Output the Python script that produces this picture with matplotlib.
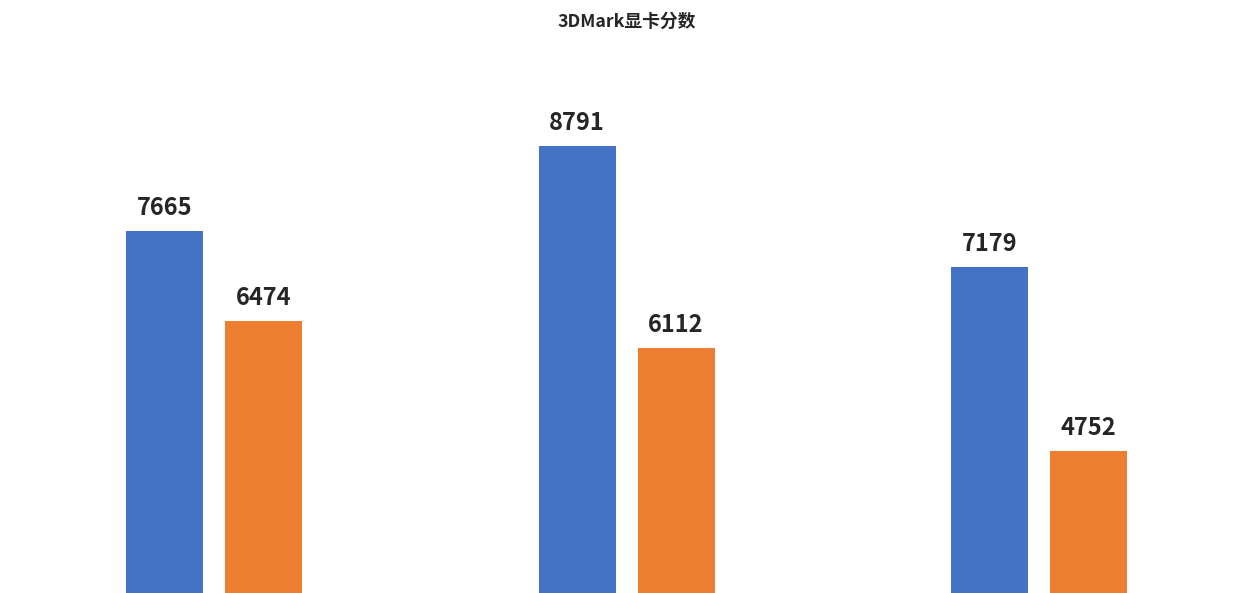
import numpy as np
import matplotlib
matplotlib.use('Agg')
import matplotlib.pyplot as plt

plt.rcParams['font.family'] = ['Noto Sans CJK SC', 'DejaVu Sans']

# data
title = '3DMark显卡分数'
groups = ['A', 'B', 'C']
series_blue = [7665, 8791, 7179]
series_orange = [6474, 6112, 4752]

blue = '#4472C4'
orange = '#ED7D31'

fig = plt.figure(figsize=(12.55, 5.93), dpi=100)
ax = fig.add_axes([0, 0, 1, 1])

x = np.arange(len(groups))
w = 0.1867
off = 0.12

b1 = ax.bar(x - off, series_blue, width=w, color=blue)
b2 = ax.bar(x + off, series_orange, width=w, color=orange)

for bars, vals in ((b1, series_blue), (b2, series_orange)):
    for rect, v in zip(bars, vals):
        ax.annotate(f'{v}', (rect.get_x() + rect.get_width() / 2, v),
                    xytext=(0, 11.5), textcoords='offset points',
                    ha='center', va='baseline', fontsize=17,
                    fontweight='bold', color='#262626')

ax.set_xlim(-0.5188, 2.5236)
ax.set_ylim(2871, 10718)
ax.axis('off')

fig.text(0.4992, 1 - 27 / 593, title, ha='center', va='baseline',
         fontsize=12.8, fontweight='bold', color='#262626')

fig.savefig('out.png', dpi=100)
